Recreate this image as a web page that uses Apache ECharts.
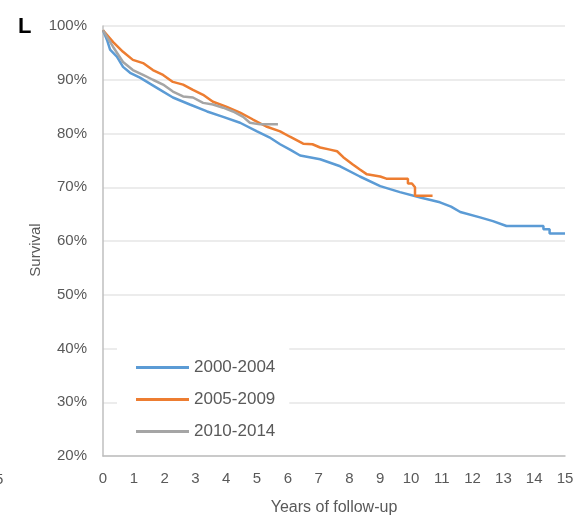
<!DOCTYPE html>
<html><head><meta charset="utf-8">
<script src="https://cdn.jsdelivr.net/npm/echarts@6/dist/echarts.min.js"></script>
<style>html,body{margin:0;padding:0;background:#fff}#c{width:578px;height:521px}</style>
</head><body><div id="c"></div>
<script>
const seriesNames = ['2000-2004', '2005-2009', '2010-2014'];
const yTicks = [20, 30, 40, 50, 60, 70, 80, 90, 100];
const xTicks = [0,1,2,3,4,5,6,7,8,9,10,11,12,13,14,15];
const blueYears = [0, 0.13, 0.23, 0.45, 0.65, 0.88, 1.2, 1.75, 2.27, 2.82, 3.38, 3.9, 4.45, 5.0, 5.4, 5.75, 6.1, 6.4, 7.05, 7.7, 8.34, 9.0, 9.64, 10.3, 10.94, 11.3, 11.6, 12.24, 12.66, 13.1, 14.3, 14.3, 14.5, 14.5, 15];
const blueSurv  = [99.2, 97.4, 95.6, 94.3, 92.4, 91.3, 90.4, 88.5, 86.7, 85.4, 84.1, 83.1, 82.0, 80.4, 79.3, 78.0, 76.9, 75.9, 75.2, 73.9, 72.0, 70.2, 69.1, 68.1, 67.2, 66.4, 65.4, 64.4, 63.7, 62.8, 62.8, 62.2, 62.2, 61.4, 61.4];
const orangeYears = [0, 0.33, 0.65, 0.97, 1.3, 1.62, 1.95, 2.27, 2.6, 2.92, 3.25, 3.57, 4.0, 4.45, 4.87, 5.3, 5.75, 6.07, 6.5, 6.8, 7.05, 7.37, 7.6, 7.8, 8.1, 8.34, 8.57, 9.0, 9.2, 9.9, 9.9, 10.03, 10.13, 10.13, 10.2, 10.7];
const orangeSurv  = [99.2, 97.0, 95.2, 93.7, 93.1, 91.8, 90.9, 89.6, 89.1, 88.1, 87.2, 85.9, 85.0, 83.9, 82.6, 81.3, 80.4, 79.4, 78.1, 78.0, 77.4, 77.0, 76.7, 75.6, 74.3, 73.3, 72.4, 72.0, 71.6, 71.6, 70.7, 70.7, 70.0, 68.4, 68.4, 68.4];
const grayYears = [0, 0.33, 0.65, 0.97, 1.3, 1.62, 1.95, 2.27, 2.6, 2.92, 3.25, 3.57, 3.9, 4.22, 4.55, 4.77, 5.1, 5.68];
const graySurv  = [99.2, 96.1, 93.3, 91.8, 90.9, 90.0, 89.1, 87.8, 86.9, 86.7, 85.7, 85.4, 84.8, 84.1, 83.1, 82.0, 81.7, 81.7];

const colors = ['#5B9BD5', '#ED7D31', '#A5A5A5'];
const pairs = (xs, ys) => xs.map((x, i) => [x, ys[i]]);
const font = '"Liberation Sans", Arial, sans-serif';
const chart = echarts.init(document.getElementById('c'), null, {renderer: 'canvas'});
chart.setOption({
  animation: false,
  backgroundColor: '#fff',
  grid: {left: 103, right: 13, top: 26, bottom: 63, containLabel: false},
  legend: {
    orient: 'vertical', left: 117, top: 346,
    data: seriesNames.map((n, i) => ({name: n, icon: 'rect', itemStyle: {color: colors[i]}})),
    itemWidth: 53, itemHeight: 3, itemGap: 15,
    backgroundColor: '#fff', padding: [13, 14, 8, 19],
    textStyle: {fontSize: 17, color: '#595959', fontFamily: font}
  },
  xAxis: {
    type: 'value', min: xTicks[0], max: xTicks[xTicks.length - 1], interval: 1,
    name: 'Years of follow-up', nameLocation: 'middle', nameGap: 44,
    nameTextStyle: {fontSize: 16, color: '#595959', fontFamily: font},
    axisLine: {show: true, lineStyle: {color: '#BFBFBF', width: 1.5}},
    axisTick: {show: false},
    splitLine: {show: false},
    axisLabel: {fontSize: 15, color: '#595959', margin: 15, fontFamily: font}
  },
  yAxis: {
    type: 'value', min: yTicks[0], max: yTicks[yTicks.length - 1], interval: 10,
    axisLine: {show: true, lineStyle: {color: '#BFBFBF', width: 1.5}},
    axisTick: {show: false},
    splitLine: {show: true, lineStyle: {color: '#E6E6E6', width: 1.5}},
    axisLabel: {fontSize: 15, color: '#595959', margin: 16, fontFamily: font, formatter: '{value}%'}
  },
  graphic: [
    {type: 'text', left: 18, top: 16, style: {text: 'L', fontSize: 22, fontWeight: 'bold', fill: '#000', fontFamily: font}},
    {type: 'text', left: -5, top: 472, style: {text: '5', fontSize: 15, fill: '#595959', fontFamily: font}},
    {type: 'text', x: 36, y: 250, rotation: Math.PI / 2, style: {text: 'Survival', fontSize: 15, fill: '#595959', fontFamily: font, align: 'center', verticalAlign: 'middle'}}
  ],
  series: [
    {name: seriesNames[0], type: 'line', data: pairs(blueYears, blueSurv), showSymbol: false, symbol: 'none', lineStyle: {width: 2.5, color: colors[0]}, itemStyle: {color: colors[0]}},
    {name: seriesNames[1], type: 'line', data: pairs(orangeYears, orangeSurv), showSymbol: false, symbol: 'none', lineStyle: {width: 2.5, color: colors[1]}, itemStyle: {color: colors[1]}},
    {name: seriesNames[2], type: 'line', data: pairs(grayYears, graySurv), showSymbol: false, symbol: 'none', lineStyle: {width: 2.5, color: colors[2]}, itemStyle: {color: colors[2]}}
  ]
});
</script></body></html>
